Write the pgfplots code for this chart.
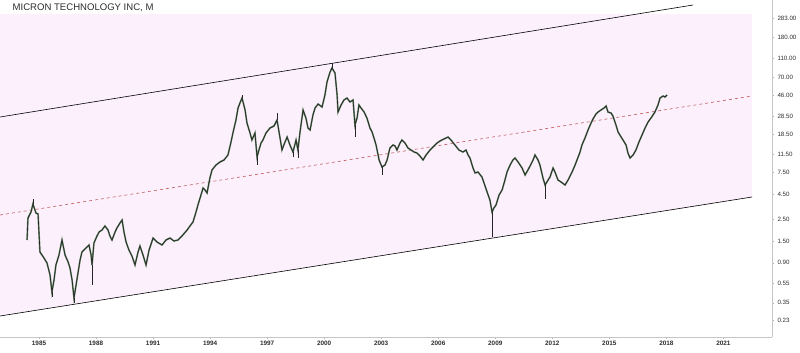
\documentclass[border=0pt]{standalone}
\usepackage{fontspec}
\setmainfont{Liberation Sans}
\usepackage{pgfplots}
\pgfplotsset{compat=1.18}
\definecolor{chpink}{RGB}{252,240,252}
\definecolor{midred}{RGB}{190,90,90}
\definecolor{bodygreen}{RGB}{100,135,100}
\definecolor{txt}{RGB}{45,45,45}
\begin{document}
\begin{tikzpicture}
\path[use as bounding box] (0,-353bp) rectangle (800bp,0);
\begin{axis}[
  at={(0,0)}, anchor=north west,
  scale only axis, width=772bp, height=337bp,
  xmin=1982.948, xmax=2023.558,
  ymode=log, ymin=0.1567, ymax=435.5,
  axis y line*=right, axis x line*=bottom,
  axis line style={gray!45, line width=0.5bp},
  tick align=outside, major tick length=2bp,
  tick style={gray!60, line width=0.4bp},
  minor tick num=0, log basis y=10,
  xtick={1985,1988,1991,1994,1997,2000,2003,2006,2009,2012,2015,2018,2021},
  xticklabels={1985,1988,1991,1994,1997,2000,2003,2006,2009,2012,2015,2018,2021},
  ytick={0.23,0.35,0.55,0.9,1.5,2.5,4.5,7.5,11.5,18.5,28.5,46,70,110,180,283},
  yticklabels={0.23,0.35,0.55,0.90,1.50,2.50,4.50,7.50,11.50,18.50,28.50,46.00,70.00,110.00,180.00,283.00},
  yminorticks=false,
  /pgf/number format/assume math mode=true,
  ticklabel style={font=\fontsize{6.2}{7}\selectfont, text=txt},
  xticklabel style={font=\fontsize{6.4}{7}\selectfont\bfseries, text=txt, yshift=1bp},
  yticklabel style={anchor=west, xshift=0bp},
]
% pink channel background
\addplot[fill=chpink, draw=none] coordinates {
(1982.948,313.2) (2022.51,313.2) (2022.51,4.225) (1982.948,0.2568)} -- cycle;
% channel lines
\addplot[black, line width=0.6bp] coordinates {(1982.948,27.75) (2019.40,387.1)};
\addplot[black, line width=0.6bp] coordinates {(1982.948,0.2568) (2022.51,4.225)};
\addplot[midred, line width=0.6bp, dash pattern=on 3bp off 3bp] coordinates {(1982.948,2.766) (2022.51,45.49)};
% price path (monthly closes)
\pgfplotstableread{
x y
1984.37 1.536
1984.42 2.578
1984.58 2.969
1984.68 3.583
1984.84 2.900
1984.95 2.832
1985.05 1.158
1985.26 1.006
1985.42 0.8942
1985.58 0.6741
1985.68 0.4518
1985.79 0.5993
1985.89 0.8530
1986.05 1.079
1986.21 1.536
1986.37 1.079
1986.53 0.9155
1986.63 0.7948
1986.74 0.5993
1986.84 0.3923
1986.95 0.5327
1987.05 0.7067
1987.16 0.9596
1987.26 1.158
1987.47 1.272
1987.63 1.365
1987.74 1.079
1987.79 0.8530
1987.89 1.431
1988.05 1.687
1988.16 1.854
1988.31 1.943
1988.47 2.135
1988.63 1.943
1988.73 1.687
1988.84 1.536
1989.00 1.854
1989.10 2.037
1989.26 2.291
1989.37 2.459
1989.47 1.854
1989.58 1.465
1989.73 1.214
1989.89 1.054
1990.05 0.8530
1990.21 1.158
1990.31 1.334
1990.47 1.079
1990.63 0.8530
1990.79 1.214
1991.00 1.609
1991.21 1.465
1991.47 1.365
1991.68 1.536
1991.89 1.609
1992.10 1.500
1992.31 1.536
1992.52 1.687
1992.79 1.943
1992.94 2.135
1993.10 2.346
1993.26 2.969
1993.36 3.500
1993.52 4.428
1993.63 5.221
1993.73 4.982
1993.84 4.642
1993.99 6.608
1994.10 7.978
1994.31 8.969
1994.52 9.626
1994.73 10.09
1994.94 11.35
1995.10 15.41
1995.20 19.05
1995.36 25.86
1995.47 34.30
1995.57 38.59
1995.68 43.39
1995.84 32.72
1995.94 24.10
1996.10 19.05
1996.20 16.15
1996.36 19.05
1996.47 10.83
1996.57 12.77
1996.68 15.05
1996.78 16.15
1996.94 19.05
1997.15 21.42
1997.36 22.45
1997.52 25.86
1997.68 16.93
1997.78 12.77
1997.94 15.41
1998.05 17.33
1998.20 14.36
1998.36 12.18
1998.52 16.15
1998.62 12.77
1998.73 19.50
1998.89 32.72
1999.04 27.10
1999.15 21.42
1999.26 20.44
1999.41 29.08
1999.52 34.30
1999.68 37.69
1999.89 35.12
2000.04 46.57
2000.15 63.24
2000.31 80.02
2000.41 87.88
2000.57 78.16
2000.68 46.57
2000.73 31.21
2000.89 36.81
2001.04 41.41
2001.20 43.39
2001.36 39.50
2001.52 41.41
2001.62 22.99
2001.73 27.10
2001.83 36.81
2001.94 34.30
2002.10 31.21
2002.25 27.10
2002.41 21.42
2002.52 19.50
2002.62 16.93
2002.73 14.36
2002.89 10.09
2003.04 8.556
2003.20 8.969
2003.31 10.09
2003.46 13.38
2003.62 14.36
2003.73 14.02
2003.83 12.77
2003.99 15.05
2004.09 16.15
2004.25 15.05
2004.41 13.38
2004.57 12.77
2004.73 12.18
2004.88 11.90
2005.04 11.09
2005.20 10.09
2005.36 11.35
2005.57 12.77
2005.78 14.02
2005.94 15.05
2006.09 15.77
2006.30 16.54
2006.52 17.33
2006.67 16.15
2006.88 14.36
2007.09 12.77
2007.30 12.18
2007.46 12.77
2007.57 11.35
2007.67 10.58
2007.83 8.358
2007.94 7.434
2008.09 7.611
2008.30 6.765
2008.41 5.873
2008.57 4.753
2008.72 3.937
2008.83 2.969
2008.93 3.261
2009.04 3.500
2009.20 4.428
2009.36 4.982
2009.51 6.303
2009.62 7.611
2009.78 8.969
2009.93 10.09
2010.04 10.58
2010.20 9.626
2010.41 8.358
2010.57 7.092
2010.72 7.978
2010.83 8.760
2010.99 10.09
2011.09 11.35
2011.25 10.09
2011.35 8.969
2011.51 6.608
2011.62 5.603
2011.78 6.303
2011.88 6.765
2012.04 8.358
2012.14 7.611
2012.30 6.303
2012.46 6.013
2012.67 5.603
2012.83 6.303
2013.04 7.611
2013.20 8.969
2013.30 10.09
2013.46 12.18
2013.56 14.36
2013.72 16.93
2013.88 20.44
2014.04 24.10
2014.14 26.47
2014.30 29.78
2014.41 31.21
2014.56 32.72
2014.72 34.30
2014.83 35.95
2014.93 31.21
2015.09 30.49
2015.19 28.41
2015.35 22.99
2015.46 19.50
2015.62 17.33
2015.72 16.15
2015.88 14.36
2015.98 11.90
2016.09 10.58
2016.25 11.35
2016.40 12.77
2016.56 15.41
2016.72 18.17
2016.88 21.42
2017.04 24.67
2017.19 27.10
2017.40 31.21
2017.56 36.81
2017.67 43.39
2017.83 45.49
2017.93 44.43
2018.04 46.57
}\price
\addplot[bodygreen, line width=1.6bp, line join=miter] table[x=x,y=y] {\price};
\addplot[black!85, line width=0.7bp, line join=miter] table[x=x,y=y] {\price};
% wicks (highs / lows)
\addplot[black!85, line width=0.6bp, unbounded coords=jump] coordinates {
(1984.68,3.583) (1984.68,4.030) (1984.68,nan)
(1985.68,0.4518) (1985.68,0.4016) (1985.68,nan)
(1986.84,0.3923) (1986.84,0.3488) (1986.84,nan)
(1987.79,0.8530) (1987.79,0.5327) (1987.79,nan)
(1995.68,43.39) (1995.68,46.57) (1995.68,nan)
(1996.47,10.83) (1996.47,8.969) (1996.47,nan)
(1997.52,25.86) (1997.52,30.49) (1997.52,nan)
(1998.36,12.18) (1998.36,10.83) (1998.36,nan)
(1998.62,12.77) (1998.62,10.58) (1998.62,nan)
(2000.41,87.88) (2000.41,98.9) (2000.41,nan)
(2001.62,22.99) (2001.62,17.33) (2001.62,nan)
(2003.04,8.556) (2003.04,7.092) (2003.04,nan)
(2008.83,2.969) (2008.83,1.648) (2008.83,nan)
(2011.62,5.603) (2011.62,4.030) (2011.62,nan)
};
\end{axis}
\node[anchor=west, text=txt, font=\fontsize{9.6}{11}\selectfont, inner sep=0pt] at (12.5bp,-8bp) {MICRON TECHNOLOGY INC, M};
\end{tikzpicture}
\end{document}
